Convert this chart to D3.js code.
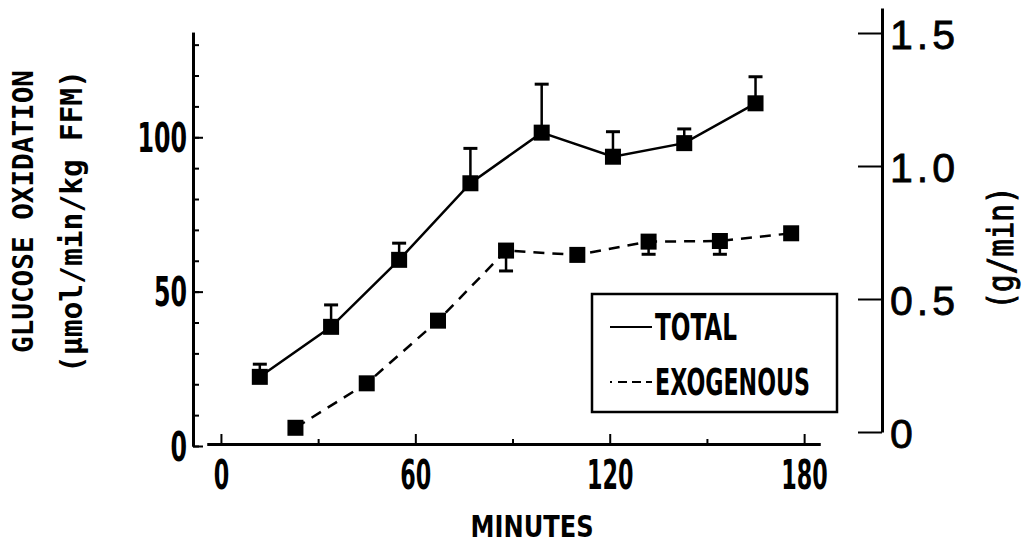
<!DOCTYPE html>
<html>
<head>
<meta charset="utf-8">
<script src="https://cdn.jsdelivr.net/npm/d3@7"></script>
<style>
  body { margin: 0; background: #fff; }
  svg { display: block; }
</style>
</head>
<body>
<div id="chart"></div>
<script>
// values (minutes, umol/min/kg FFM, SE)
const totalMinutes = [12, 34, 55, 77, 99, 121, 143, 165];
const totalOxidation = [22.4, 38.6, 60.3, 85.1, 101.5, 93.7, 98.1, 111.0];
const totalSE = [4.1, 7.1, 5.4, 11.3, 15.7, 8.1, 4.6, 8.6];

const exoMinutes = [23, 45, 67, 88, 110, 132, 154, 176];
const exoOxidation = [5.9, 20.3, 40.6, 63.3, 61.9, 66.2, 66.4, 68.9];
const exoSE = [0, 0, 0, 6.6, 0, 4.1, 4.3, 0];

const xTicks = [0, 60, 120, 180];
const xMinorTicks = [30, 90, 150];
const yTicks = [0, 50, 100];
const yMinorTicks = d3.range(0, 131, 10);
const gTicks = [0, 0.5, 1.0, 1.5];
const legendLabels = ["TOTAL", "EXOGENOUS"];

const width = 1027, height = 548;
const condensed = "'DejaVu Sans Condensed', 'DejaVu Sans', sans-serif";
const mono = "'DejaVu Sans Mono', monospace";
const helv = "'Liberation Sans', Arial, sans-serif";
const markSize = 16;
const capWidth = 14;

const svg = d3.select("#chart").append("svg")
  .attr("width", width)
  .attr("height", height)
  .style("background", "#fff");

const x = d3.scaleLinear().domain([-4.3, 184.9]).range([207, 820]);
const y = d3.scaleLinear().domain([0, 134]).range([446, 32.3]);
const yg = d3.scaleLinear().domain([0, 1.594]).range([432, 8]);

function styleAxis(g, domainWidth) {
  g.select(".domain").attr("stroke", "#000").attr("stroke-width", domainWidth || 3);
  g.selectAll(".tick line").attr("stroke", "#000").attr("stroke-width", 2);
}

function squeezeText(sel, family, size, perChar) {
  sel.attr("font-family", family)
    .attr("font-size", size)
    .attr("font-weight", "bold")
    .attr("fill", "#000")
    .attr("textLength", function() { return this.textContent.length * perChar; })
    .attr("lengthAdjust", "spacingAndGlyphs");
}

// bottom axis
svg.append("g")
  .attr("transform", "translate(0,444)")
  .call(d3.axisBottom(x).tickValues(xMinorTicks).tickSize(-5).tickSizeOuter(0).tickFormat(""))
  .call(styleAxis);

const xAxis = svg.append("g")
  .attr("transform", "translate(0,444)")
  .call(d3.axisBottom(x).tickValues(xTicks).tickSize(-10).tickSizeOuter(0));
xAxis.call(styleAxis);
xAxis.selectAll("text")
  .attr("y", 45)
  .attr("dy", 0)
  .call(squeezeText, condensed, 40, 15.5);

// left axis
svg.append("g")
  .attr("transform", "translate(193,0)")
  .call(d3.axisLeft(y).tickValues(yMinorTicks).tickSize(-6).tickSizeOuter(0).tickFormat(""))
  .call(styleAxis);

const yAxis = svg.append("g")
  .attr("transform", "translate(193,0)")
  .call(d3.axisLeft(y).tickValues(yTicks).tickSize(-10).tickSizeOuter(0));
yAxis.call(styleAxis);
yAxis.selectAll("text")
  .attr("x", -6)
  .attr("y", 14)
  .attr("dy", 0)
  .call(squeezeText, condensed, 40, 16.5);

// right axis, g/min
const gAxis = svg.append("g")
  .attr("transform", "translate(882,0)")
  .call(d3.axisRight(yg).tickValues(gTicks).tickSize(-24).tickSizeOuter(0).tickPadding(8)
    .tickFormat(d => d === 0 ? "0" : d3.format(".1f")(d)));
gAxis.call(styleAxis);
gAxis.selectAll("text")
  .attr("y", 15)
  .attr("dy", 0)
  .attr("font-family", helv)
  .attr("font-size", 41)
  .attr("letter-spacing", 4)
  .attr("fill", "#000")
  .attr("stroke", "#000")
  .attr("stroke-width", 0.8);

// axis titles
svg.append("text")
  .attr("transform", "translate(33,211.5) rotate(-90)")
  .attr("text-anchor", "middle")
  .text("GLUCOSE OXIDATION")
  .call(squeezeText, mono, 28, 283 / 17);

svg.append("text")
  .attr("transform", "translate(82,221.5) rotate(-90)")
  .attr("text-anchor", "middle")
  .text("(\u00b5mol/min/kg FFM)")
  .call(squeezeText, mono, 30, 303 / 17);

svg.append("text")
  .attr("transform", "translate(1013,248) rotate(-90)")
  .attr("text-anchor", "middle")
  .attr("font-family", mono)
  .attr("font-size", 36)
  .attr("stroke", "#000")
  .attr("stroke-width", 1)
  .attr("textLength", 123)
  .attr("lengthAdjust", "spacingAndGlyphs")
  .text("(g/min)");

svg.append("text")
  .attr("x", 532)
  .attr("y", 537)
  .attr("text-anchor", "middle")
  .text("MINUTES")
  .call(squeezeText, condensed, 31, 123 / 7);

// series
const line = d3.line().x(d => x(d[0])).y(d => y(d[1]));
const totalPts = d3.zip(totalMinutes, totalOxidation, totalSE);
const exoPts = d3.zip(exoMinutes, exoOxidation, exoSE);

function drawErrors(pts, dir) {
  const g = svg.append("g").attr("stroke", "#000").attr("stroke-width", 2.5);
  pts.filter(d => d[2] > 0).forEach(d => {
    const yEnd = y(d[1] + dir * d[2]);
    g.append("line")
      .attr("x1", x(d[0])).attr("x2", x(d[0]))
      .attr("y1", y(d[1])).attr("y2", yEnd);
    g.append("line")
      .attr("x1", x(d[0]) - capWidth / 2).attr("x2", x(d[0]) + capWidth / 2)
      .attr("y1", yEnd).attr("y2", yEnd)
      .attr("stroke-width", 3);
  });
}

drawErrors(totalPts, 1);
drawErrors(exoPts, -1);

svg.append("path")
  .attr("d", line(totalPts))
  .attr("fill", "none")
  .attr("stroke", "#000")
  .attr("stroke-width", 2.5);

svg.append("path")
  .attr("d", line(exoPts))
  .attr("fill", "none")
  .attr("stroke", "#000")
  .attr("stroke-width", 2.5)
  .attr("stroke-dasharray", "11,8");

svg.selectAll("rect.mark")
  .data(totalPts.concat(exoPts))
  .enter()
  .append("rect")
  .attr("class", "mark")
  .attr("x", d => x(d[0]) - markSize / 2)
  .attr("y", d => y(d[1]) - markSize / 2)
  .attr("width", markSize)
  .attr("height", markSize)
  .attr("fill", "#000");

// legend
const legend = svg.append("g");
legend.append("rect")
  .attr("x", 592).attr("y", 294)
  .attr("width", 245).attr("height", 118)
  .attr("fill", "#fff")
  .attr("stroke", "#000")
  .attr("stroke-width", 2.5);

legendLabels.forEach((label, i) => {
  const ly = 327 + i * 55;
  legend.append("line")
    .attr("x1", 610).attr("x2", 652)
    .attr("y1", ly).attr("y2", ly)
    .attr("stroke", "#000")
    .attr("stroke-width", 2)
    .attr("stroke-dasharray", i === 0 ? null : "2,6,9,5,9,5,9");
  legend.append("text")
    .attr("x", 655)
    .attr("y", ly + 13)
    .text(label)
    .call(squeezeText, condensed, 37, i === 0 ? 82 / 5 : 155 / 9);
});
</script>
</body>
</html>
